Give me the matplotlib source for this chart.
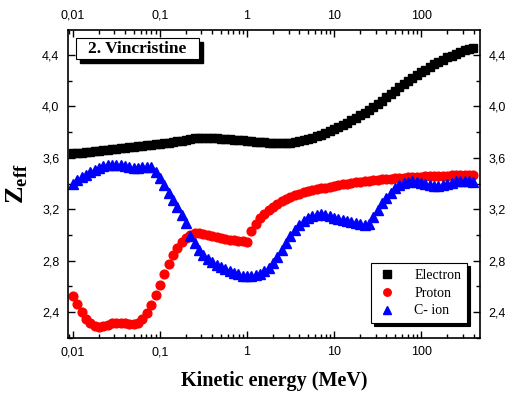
import matplotlib
matplotlib.use("Agg")
import matplotlib.pyplot as plt
from matplotlib.patches import Rectangle
from matplotlib.ticker import FixedLocator, LogLocator, NullFormatter, MultipleLocator

plt.rcParams['font.family'] = ['Liberation Sans', 'DejaVu Sans']
plt.rcParams['mathtext.fontset'] = 'custom'
plt.rcParams['mathtext.rm'] = 'Liberation Serif'
plt.rcParams['mathtext.bf'] = 'Liberation Serif:bold'

# kinetic energy grid (MeV)
energy = [0.01, 0.0112, 0.0126, 0.0141, 0.0158, 0.0178, 0.02, 0.0224, 0.0251, 0.0282,
          0.0316, 0.0355, 0.0398, 0.0447, 0.0501, 0.0562, 0.0631, 0.0708, 0.0794, 0.0891,
          0.1, 0.112, 0.126, 0.141, 0.158, 0.178, 0.2, 0.224, 0.251, 0.282,
          0.316, 0.355, 0.398, 0.447, 0.501, 0.562, 0.631, 0.708, 0.794, 0.891,
          1.0, 1.12, 1.26, 1.41, 1.58, 1.78, 2.0, 2.24, 2.51, 2.82,
          3.16, 3.55, 3.98, 4.47, 5.01, 5.62, 6.31, 7.08, 7.94, 8.91,
          10, 11.2, 12.6, 14.1, 15.8, 17.8, 20, 22.4, 25.1, 28.2,
          31.6, 35.5, 39.8, 44.7, 50.1, 56.2, 63.1, 70.8, 79.4, 89.1,
          100, 112, 126, 141, 158, 178, 200, 224, 251, 282,
          316, 355, 398]

electron = [3.635, 3.638, 3.641, 3.645, 3.648, 3.652, 3.656, 3.660, 3.664, 3.668,
            3.672, 3.676, 3.680, 3.684, 3.688, 3.692, 3.696, 3.700, 3.703, 3.707,
            3.710, 3.714, 3.718, 3.723, 3.728, 3.734, 3.740, 3.746, 3.751, 3.754,
            3.755, 3.755, 3.754, 3.752, 3.750, 3.747, 3.744, 3.741, 3.738, 3.735,
            3.732, 3.729, 3.726, 3.723, 3.720, 3.718, 3.716, 3.715, 3.714, 3.715,
            3.718, 3.723, 3.730, 3.738, 3.747, 3.757, 3.768, 3.780, 3.794, 3.809,
            3.825, 3.840, 3.856, 3.873, 3.891, 3.910, 3.930, 3.951, 3.973, 3.996,
            4.020, 4.045, 4.070, 4.096, 4.122, 4.148, 4.174, 4.198, 4.222, 4.245,
            4.266, 4.287, 4.308, 4.328, 4.347, 4.364, 4.381, 4.396, 4.410, 4.424,
            4.436, 4.447, 4.457]

proton = [2.525, 2.465, 2.400, 2.350, 2.315, 2.292, 2.285, 2.290, 2.303, 2.313,
          2.318, 2.318, 2.315, 2.310, 2.308, 2.318, 2.345, 2.392, 2.455, 2.530,
          2.610, 2.695, 2.775, 2.845, 2.900, 2.945, 2.980, 3.002, 3.012, 3.013,
          3.008, 3.000, 2.993, 2.985, 2.977, 2.970, 2.964, 2.958, 2.953, 2.950,
          2.948, 3.030, 3.085, 3.130, 3.165, 3.195, 3.220, 3.243, 3.262, 3.280,
          3.295, 3.310, 3.322, 3.332, 3.340, 3.348, 3.355, 3.362, 3.369, 3.376,
          3.382, 3.388, 3.393, 3.399, 3.404, 3.409, 3.413, 3.417, 3.421, 3.425,
          3.428, 3.432, 3.435, 3.438, 3.441, 3.443, 3.446, 3.448, 3.450, 3.452,
          3.454, 3.455, 3.456, 3.458, 3.459, 3.460, 3.462, 3.463, 3.464, 3.466,
          3.467, 3.468, 3.470]

c_ion = [3.400, 3.425, 3.448, 3.470, 3.490, 3.507, 3.522, 3.533, 3.541, 3.545,
         3.546, 3.542, 3.535, 3.527, 3.522, 3.522, 3.526, 3.530, 3.525, 3.490,
         3.440, 3.385, 3.330, 3.270, 3.215, 3.155, 3.090, 2.995, 2.935, 2.880,
         2.845, 2.815, 2.790, 2.770, 2.750, 2.732, 2.718, 2.705, 2.693, 2.684,
         2.678, 2.678, 2.685, 2.698, 2.718, 2.745, 2.780, 2.830, 2.880, 2.940,
         2.995, 3.040, 3.075, 3.105, 3.130, 3.148, 3.158, 3.160, 3.155, 3.145,
         3.135, 3.125, 3.115, 3.105, 3.097, 3.090, 3.084, 3.080, 3.085, 3.140,
         3.195, 3.245, 3.290, 3.330, 3.365, 3.390, 3.405, 3.413, 3.416, 3.413,
         3.405, 3.395, 3.385, 3.380, 3.380, 3.385, 3.395, 3.407, 3.416, 3.420,
         3.420, 3.418, 3.415]

xticks = [0.01, 0.1, 1, 10, 100]
xtick_labels = ['0,01', '0,1', '1', '10', '100']
yticks = [2.4, 2.8, 3.2, 3.6, 4.0, 4.4]
ytick_labels = ['2,4', '2,8', '3,2', '3,6', '4,0', '4,4']

fig = plt.figure(figsize=(5.06, 3.94), dpi=100)
ax = fig.add_axes([0.134, 0.142, 0.815, 0.782])

ax.plot(energy, electron, ls='none', marker='s', ms=6.0, color='black', mec='black', label='Electron')
ax.plot(energy, proton, ls='none', marker='o', ms=6.3, color='red', mec='red', label='Proton')
ax.plot(energy, c_ion, ls='none', marker='^', ms=7.0, color='blue', mec='blue', label='C- ion')

ax.set_xscale('log')
ax.set_xlim(0.00876, 477)
ax.set_ylim(2.198, 4.595)

ax.xaxis.set_major_locator(FixedLocator(xticks))
ax.set_xticklabels(xtick_labels)
ax.xaxis.set_minor_locator(LogLocator(base=10, subs=range(2, 10), numticks=20))
ax.xaxis.set_minor_formatter(NullFormatter())
ax.set_yticks(yticks)
ax.set_yticklabels(ytick_labels)
ax.yaxis.set_minor_locator(MultipleLocator(0.2))

ax.tick_params(which='both', direction='in', top=True, right=True,
               labeltop=True, labelright=True, labelsize=9, width=1.0)
ax.tick_params(which='major', length=5, pad=6)
ax.tick_params(which='minor', length=3)
for s in ax.spines.values():
    s.set_linewidth(1.2)

ax.set_xlabel('Kinetic energy (MeV)', family='Liberation Serif', weight='bold', fontsize=14.5, labelpad=9)
ax.set_ylabel(r'$\mathbf{Z}_{\mathbf{eff}}$', fontsize=19, labelpad=9)

leg = ax.legend(loc='lower right', bbox_to_anchor=(0.968, 0.049), borderaxespad=0,
                prop={'family': 'Liberation Serif', 'size': 10}, frameon=True, fancybox=False,
                edgecolor='black', shadow={'color': 'black', 'alpha': 1}, markerscale=0.85,
                handletextpad=1.2, handlelength=1.5, borderpad=0.4, labelspacing=0.35)
leg.get_frame().set_linewidth(0.8)

# title box with a black drop shadow
ax.add_patch(Rectangle((0.0194 + 0.0097, 0.906 - 0.013), 0.2986, 0.068, transform=ax.transAxes,
                       fc='black', ec='black', zorder=5))
ax.add_patch(Rectangle((0.0194, 0.906), 0.2986, 0.068, transform=ax.transAxes,
                       fc='white', ec='black', lw=0.8, zorder=6))
ax.text(0.169, 0.938, '2. Vincristine', transform=ax.transAxes, ha='center', va='center',
        family='Liberation Serif', weight='bold', fontsize=12.5, color='black', zorder=7)

fig.savefig('out.png', dpi=100)
